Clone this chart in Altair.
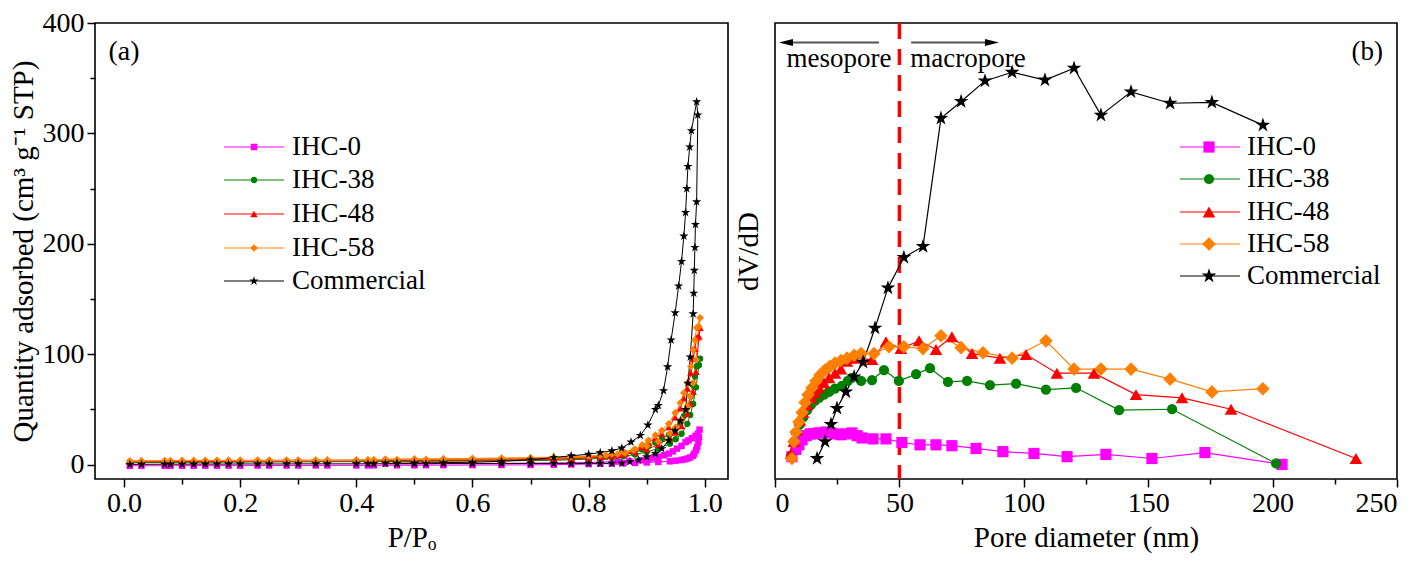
import altair as alt
import pandas as pd

FONT = "Liberation Serif"
SERIES = ["IHC-0", "IHC-38", "IHC-48", "IHC-58", "Commercial"]
COLORS = ["#ff00ff", "#008000", "#ff0000", "#ff8000", "#000000"]
STAR = ("M0,-1L0.2245,-0.309L0.951,-0.309L0.363,0.118L0.588,0.809L0,0.382"
        "L-0.588,0.809L-0.363,0.118L-0.951,-0.309L-0.2245,-0.309Z")
SHAPES = ["square", "circle", "triangle-up", "diamond", STAR]
LEFT_SIZES = [42, 40, 55, 60, 95]
RIGHT_SIZES = [125, 105, 160, 185, 240]

# ---------------- panel (a): N2 isotherms ----------------
LOW_P = [0.01, 0.03, 0.07, 0.08, 0.10, 0.12, 0.14, 0.16, 0.18, 0.20, 0.23, 0.25, 0.28, 0.30,
         0.33, 0.35, 0.40, 0.42, 0.43, 0.47, 0.50, 0.52, 0.55, 0.60, 0.65, 0.70, 0.74, 0.77, 0.80]
HIGH_P = [0.82, 0.84, 0.86, 0.88, 0.90, 0.92, 0.94, 0.95, 0.96, 0.97, 0.975, 0.98, 0.985, 0.99]
DES_P = [0.992, 0.986, 0.983, 0.98, 0.976, 0.970, 0.964, 0.958, 0.949, 0.938, 0.926, 0.915, 0.903,
         0.892, 0.877, 0.863, 0.85, 0.83, 0.80, 0.77, 0.74, 0.70, 0.65, 0.60, 0.55, 0.50, 0.45]

IHC0_ADS_LOW = [-1.0, -1.0, -1.0, -1.0, -1.0, -0.9, -0.9, -0.9, -0.9, -0.9, -0.8, -0.8, -0.8, -0.8,
                -0.7, -0.7, -0.7, -0.7, -0.6, -0.6, -0.6, -0.5, -0.5, -0.4, -0.3, -0.2, 0.0, 0.2, 0.5]
IHC0_ADS_HIGH_P = [0.82, 0.84, 0.86, 0.88, 0.90, 0.92, 0.94, 0.95, 0.96, 0.965, 0.97, 0.975, 0.98,
                   0.982, 0.985, 0.987, 0.989, 0.99]
IHC0_ADS_HIGH = [0.8, 1.0, 1.3, 1.6, 2.0, 2.5, 3.0, 3.6, 4.2, 4.8, 5.5, 6.5, 8.0, 10.0, 13.0, 16.0,
                 20.0, 25.0]
IHC0_DES_P = [0.991, 0.988, 0.984, 0.978, 0.972, 0.967, 0.960, 0.952, 0.945, 0.938, 0.930, 0.920,
              0.910, 0.903, 0.890, 0.870, 0.850, 0.820, 0.800, 0.770, 0.740, 0.700, 0.650, 0.600,
              0.550, 0.500, 0.450]
IHC0_DES = [31.7, 28, 26, 24, 22, 20.4, 17, 14.5, 12, 10, 8.5, 7, 5.8, 4.8, 4.0, 3.3, 2.8, 2.3, 2.0,
            1.8, 1.6, 1.4, 1.2, 1.1, 1.0, 0.9, 0.8]

IHC38_ADS_LOW = [1.8, 1.9, 2.0, 2.0, 2.1, 2.1, 2.2, 2.2, 2.3, 2.3, 2.4, 2.4, 2.5, 2.5, 2.6, 2.6, 2.7,
                 2.8, 2.8, 2.9, 3.0, 3.0, 3.1, 3.3, 3.5, 3.7, 4.0, 4.4, 5.0]
IHC38_ADS_HIGH = [5.6, 6.4, 7.6, 9.2, 11.5, 14.5, 19, 23, 28, 37, 45, 55, 70, 90]
IHC38_DES = [96, 89, 80, 72, 62, 52, 44, 38, 32, 27, 23, 20, 17, 14, 11, 9, 8, 7, 6, 5.5, 5, 4.6,
             4.3, 4.0, 3.8, 3.6, 3.5]

IHC48_ADS_LOW = [2.5, 2.6, 2.7, 2.7, 2.8, 2.8, 2.9, 2.9, 3.0, 3.0, 3.1, 3.1, 3.2, 3.2, 3.3, 3.3, 3.4,
                 3.5, 3.5, 3.6, 3.7, 3.7, 3.8, 4.0, 4.2, 4.4, 4.8, 5.3, 6.0]
IHC48_ADS_HIGH = [7.0, 8.0, 9.5, 11.5, 14, 18, 24, 29, 35, 46, 55, 66, 84, 116]
IHC48_DES = [124, 115, 105, 96, 83, 69, 60, 51, 43, 34, 28, 24, 20, 16.5, 12.5, 10, 9, 8, 7, 6.5,
             6, 5.5, 5.2, 5.0, 4.8, 4.6, 4.5]

IHC58_ADS_LOW = [3.5, 3.6, 3.7, 3.7, 3.8, 3.8, 3.9, 3.9, 4.0, 4.0, 4.1, 4.1, 4.2, 4.2, 4.3, 4.3, 4.4,
                 4.5, 4.5, 4.6, 4.7, 4.7, 4.8, 5.0, 5.2, 5.4, 5.8, 6.4, 7.2]
IHC58_ADS_HIGH = [8.4, 9.6, 11.5, 14, 17, 21, 28, 34, 41, 53, 62, 74, 95, 125]
IHC58_DES = [133, 124, 113, 104, 89, 74, 65, 56, 47, 37, 31, 26.7, 22, 17.8, 13, 10.7, 9.5, 8.5,
             7.8, 7.2, 6.8, 6.4, 6.0, 5.7, 5.4, 5.2, 5.0]

COM_ADS_LOW = [0.2, 0.3, 0.4, 0.4, 0.4, 0.5, 0.5, 0.5, 0.5, 0.6, 0.6, 0.6, 0.6, 0.7, 0.7, 0.7, 0.7,
               0.8, 0.8, 0.8, 0.8, 0.8, 0.9, 0.9, 0.9, 1.0, 1.0, 1.0, 1.1]
COM_ADS_HIGH_P = [0.82, 0.84, 0.857, 0.871, 0.886, 0.900, 0.915, 0.926, 0.938, 0.949, 0.958, 0.967,
                  0.971, 0.975, 0.980, 0.981, 0.982, 0.983, 0.984, 0.986, 0.988]
COM_ADS_HIGH = [1.1, 1.2, 1.3, 2.7, 4.2, 7.1, 10, 14.5, 22, 30.8, 39.7, 50, 73.8, 97.5, 136.6, 155.3,
                176, 196.7, 217.5, 238, 316.7]
COM_DES_P = [0.986, 0.977, 0.974, 0.971, 0.969, 0.967, 0.964, 0.960, 0.955, 0.949, 0.942, 0.936,
             0.929, 0.920, 0.915, 0.902, 0.889, 0.873, 0.857, 0.84, 0.82, 0.80, 0.77, 0.74, 0.70,
             0.65, 0.60, 0.55, 0.50, 0.47, 0.45]
COM_DES = [328.6, 302.5, 287.7, 270, 250, 228.4, 207, 184, 161.8, 137.5, 112.9, 88.6, 67, 53.6, 50,
           35.8, 26.4, 20.4, 15, 12.5, 11, 9.5, 8, 6.5, 4.5, 3, 2.2, 1.8, 1.5, 1.3, 1.2]

# ---------------- panel (b): pore size distributions ----------------
IHC0_D = [6.8, 8.4, 9.6, 10.9, 12.5, 14.1, 15.7, 17.3, 18.9, 20.5, 22.5, 24.1, 26.5, 28.5, 30.9,
          33.0, 35.0, 39.4, 44.6, 51.0, 58.3, 64.7, 71.1, 80.8, 91.6, 104.1, 117.4, 133.0, 151.5,
          172.8, 203.8]
IHC0_V = [0.049, 0.065, 0.075, 0.086, 0.095, 0.099, 0.099, 0.101, 0.101, 0.103, 0.101, 0.099, 0.097,
          0.099, 0.101, 0.095, 0.090, 0.088, 0.088, 0.080, 0.075, 0.075, 0.073, 0.067, 0.060, 0.056,
          0.049, 0.054, 0.045, 0.058, 0.032]
IHC38_D = [6.4, 7.6, 8.8, 10.0, 11.3, 12.9, 14.5, 16.1, 17.7, 19.7, 21.7, 24.1, 26.9, 29.3, 30.9,
           34.6, 39.0, 43.8, 49.8, 56.7, 62.3, 69.5, 77.2, 86.4, 96.9, 108.9, 121.0, 138.3, 159.6,
           201.4]
IHC38_V = [0.049, 0.082, 0.103, 0.120, 0.135, 0.151, 0.163, 0.172, 0.178, 0.185, 0.191, 0.198,
           0.204, 0.215, 0.222, 0.215, 0.217, 0.239, 0.215, 0.230, 0.243, 0.213, 0.215, 0.206,
           0.209, 0.196, 0.200, 0.151, 0.153, 0.034]
IHC48_D = [6.4, 7.6, 8.8, 10.0, 11.3, 12.9, 14.5, 16.1, 17.7, 19.7, 21.7, 24.1, 26.5, 28.9, 31.8,
           39.0, 44.6, 50.6, 57.9, 64.7, 71.1, 79.2, 90.4, 100.9, 113.3, 128.2, 145.1, 163.6, 183.3,
           233.5]
IHC48_V = [0.056, 0.082, 0.108, 0.129, 0.146, 0.163, 0.178, 0.189, 0.200, 0.211, 0.222, 0.232,
           0.241, 0.258, 0.265, 0.262, 0.301, 0.286, 0.303, 0.284, 0.312, 0.275, 0.265, 0.273,
           0.232, 0.232, 0.185, 0.178, 0.153, 0.045]
IHC58_D = [6.8, 7.6, 8.4, 9.6, 10.9, 12.1, 13.3, 14.9, 16.5, 18.1, 20.1, 22.1, 24.1, 26.5, 28.9,
           31.8, 34.6, 39.8, 45.8, 51.8, 59.5, 66.7, 74.8, 83.6, 95.3, 108.9, 120.2, 131.0, 143.1,
           158.8, 175.6, 196.1]
IHC58_V = [0.045, 0.082, 0.103, 0.125, 0.146, 0.168, 0.185, 0.200, 0.215, 0.228, 0.239, 0.247,
           0.254, 0.260, 0.265, 0.271, 0.275, 0.275, 0.290, 0.290, 0.286, 0.314, 0.288, 0.277,
           0.265, 0.303, 0.241, 0.241, 0.241, 0.219, 0.191, 0.198]
COM_D = [16.9, 20.1, 22.5, 24.9, 28.5, 31.8, 35.4, 40.2, 45.4, 51.8, 59.5, 66.7, 74.8, 84.4, 95.3,
         108.5, 120.2, 131.0, 143.1, 158.8, 175.6, 196.1]
COM_V = [0.045, 0.082, 0.120, 0.155, 0.191, 0.224, 0.256, 0.331, 0.419, 0.486, 0.510, 0.791, 0.828,
         0.873, 0.892, 0.875, 0.901, 0.798, 0.849, 0.824, 0.826, 0.776]

BOUNDARY_D = [50]

# ---------------- tables ----------------
left_sets = [
    ("IHC-0", LOW_P + IHC0_ADS_HIGH_P + IHC0_DES_P, IHC0_ADS_LOW + IHC0_ADS_HIGH + IHC0_DES),
    ("IHC-38", LOW_P + HIGH_P + DES_P, IHC38_ADS_LOW + IHC38_ADS_HIGH + IHC38_DES),
    ("IHC-48", LOW_P + HIGH_P + DES_P, IHC48_ADS_LOW + IHC48_ADS_HIGH + IHC48_DES),
    ("IHC-58", LOW_P + HIGH_P + DES_P, IHC58_ADS_LOW + IHC58_ADS_HIGH + IHC58_DES),
    ("Commercial", LOW_P + COM_ADS_HIGH_P + COM_DES_P, COM_ADS_LOW + COM_ADS_HIGH + COM_DES),
]
rows, k = [], 0
for name, ps, qs in left_sets:
    for p, q in zip(ps, qs):
        rows.append({"s": name, "P": p, "Q": q, "i": k})
        k += 1
df_left = pd.DataFrame(rows)

right_sets = [("IHC-0", IHC0_D, IHC0_V), ("IHC-38", IHC38_D, IHC38_V), ("IHC-48", IHC48_D, IHC48_V),
              ("IHC-58", IHC58_D, IHC58_V), ("Commercial", COM_D, COM_V)]
rows, k = [], 0
for name, ds, vs in right_sets:
    for d, v in zip(ds, vs):
        rows.append({"s": name, "D": d, "V": v, "i": k})
        k += 1
df_right = pd.DataFrame(rows)

W_L, W_R, H = 633, 622, 456
color_scale = alt.Scale(domain=SERIES, range=COLORS)


def legend_layers(x1, x2, xm, xt, ys, sizes, lw):
    out = []
    for name, c, shp, sz, yy in zip(SERIES, COLORS, SHAPES, sizes, ys):
        d = pd.DataFrame({"label": [name]})
        out.append(alt.Chart(d).mark_rule(color=c, strokeWidth=lw).encode(
            x=alt.value(x1), x2=alt.value(x2), y=alt.value(yy)))
        out.append(alt.Chart(d).mark_point(shape=shp, filled=True, color=c, size=sz, opacity=1,
                                           strokeWidth=0).encode(x=alt.value(xm), y=alt.value(yy)))
        out.append(alt.Chart(d).mark_text(align="left", baseline="middle", font=FONT, fontSize=27,
                                          color="black").encode(
            x=alt.value(xt), y=alt.value(yy), text="label:N"))
    return out


# ---------- left panel ----------
xsL = alt.Scale(domain=[-0.05, 1.04], nice=False, zero=False)
ysL = alt.Scale(domain=[-13, 400], nice=False, zero=False)

lines_L = alt.Chart(df_left).mark_line(strokeWidth=1).encode(
    x=alt.X("P:Q", scale=xsL, axis=alt.Axis(values=[0, 0.2, 0.4, 0.6, 0.8, 1.0], format=".1f",
                                             title="P/P\u2092", orient="bottom", tickSize=8,
                                             labelPadding=2, titlePadding=6)),
    y=alt.Y("Q:Q", scale=ysL, axis=alt.Axis(values=[0, 100, 200, 300, 400], orient="left",
                                             title="Quantity adsorbed (cm\u00b3 g\u207b\u00b9 STP)",
                                             tickSize=8, labelPadding=3, titlePadding=4)),
    color=alt.Color("s:N", scale=color_scale, legend=None),
    detail="s:N",
    order="i:Q",
)
pts_L = [
    alt.Chart(df_left).transform_filter(alt.datum.s == name).mark_point(
        shape=shp, filled=True, color=c, size=sz, opacity=1, strokeWidth=0).encode(
        x=alt.X("P:Q", scale=xsL, axis=None), y=alt.Y("Q:Q", scale=ysL, axis=None))
    for name, c, shp, sz in zip(SERIES, COLORS, SHAPES, LEFT_SIZES)
]
minor_L = alt.Chart(df_left).mark_point(opacity=0).encode(
    x=alt.X("P:Q", scale=xsL, axis=alt.Axis(values=[0.1, 0.3, 0.5, 0.7, 0.9], labels=False,
                                             title=None, tickSize=5, orient="bottom")),
    y=alt.Y("Q:Q", scale=ysL, axis=alt.Axis(values=[50, 150, 250, 350], labels=False, title=None,
                                             tickSize=5, orient="left")),
)
tag_a = alt.Chart(pd.DataFrame({"P": [0.0], "Q": [374], "t": ["(a)"]})).mark_text(
    font=FONT, fontSize=28, align="center", baseline="middle", color="black").encode(
    x=alt.X("P:Q", scale=xsL, axis=None), y=alt.Y("Q:Q", scale=ysL, axis=None), text="t:N")

left = alt.layer(
    lines_L, *pts_L, minor_L, tag_a,
    *legend_layers(129, 189, 159, 197, [124, 157, 191, 225, 258], LEFT_SIZES, 1.2),
).resolve_axis(x="independent", y="independent").properties(width=W_L, height=H)

# ---------- right panel ----------
xsR = alt.Scale(domain=[0, 250], nice=False, zero=False)
ysR = alt.Scale(domain=[0, 1], nice=False, zero=False)

vline = alt.Chart(pd.DataFrame({"D": BOUNDARY_D})).mark_rule(
    color="#ff0000", strokeWidth=3.5, strokeDash=[16, 10]).encode(
    x=alt.X("D:Q", scale=xsR, axis=None))
lines_R = alt.Chart(df_right).mark_line(strokeWidth=1.2).encode(
    x=alt.X("D:Q", scale=xsR, axis=alt.Axis(values=[0, 50, 100, 150, 200, 250], orient="bottom",
                                             title="Pore diameter (nm)", tickSize=8,
                                             labelPadding=2, titlePadding=6)),
    y=alt.Y("V:Q", scale=ysR, axis=alt.Axis(title="dV/dD", labels=False, ticks=False,
                                             orient="left", titlePadding=12)),
    color=alt.Color("s:N", scale=color_scale, legend=None),
    detail="s:N",
    order="i:Q",
)
pts_R = [
    alt.Chart(df_right).transform_filter(alt.datum.s == name).mark_point(
        shape=shp, filled=True, color=c, size=sz, opacity=1, strokeWidth=0).encode(
        x=alt.X("D:Q", scale=xsR, axis=None), y=alt.Y("V:Q", scale=ysR, axis=None))
    for name, c, shp, sz in zip(SERIES, COLORS, SHAPES, RIGHT_SIZES)
]
minor_R = alt.Chart(df_right).mark_point(opacity=0).encode(
    x=alt.X("D:Q", scale=xsR, axis=alt.Axis(values=[25, 75, 125, 175, 225], labels=False,
                                             title=None, tickSize=5, orient="bottom")),
    y=alt.Y("V:Q", scale=ysR, axis=None),
)
arrow_df = pd.DataFrame({"x1": [4.4, 54.7], "x2": [41.8, 87.2], "y": [0.957, 0.957]})
arrows = alt.Chart(arrow_df).mark_rule(color="#555555", strokeWidth=2).encode(
    x=alt.X("x1:Q", scale=xsR, axis=None), x2="x2:Q", y=alt.Y("y:Q", scale=ysR, axis=None))
head_l = alt.Chart(pd.DataFrame({"x": [4.4], "y": [0.957]})).mark_point(
    shape="M-1,0L1,-0.5L1,0.5Z", filled=True, color="black", size=196, opacity=1).encode(
    x=alt.X("x:Q", scale=xsR, axis=None), y=alt.Y("y:Q", scale=ysR, axis=None))
head_r = alt.Chart(pd.DataFrame({"x": [87.2], "y": [0.957]})).mark_point(
    shape="M1,0L-1,-0.5L-1,0.5Z", filled=True, color="black", size=196, opacity=1).encode(
    x=alt.X("x:Q", scale=xsR, axis=None), y=alt.Y("y:Q", scale=ysR, axis=None))
notes = alt.Chart(pd.DataFrame({"x": [25.7, 77.6, 238.0], "y": [0.92, 0.92, 0.937],
                                "t": ["mesopore", "macropore", "(b)"]})).mark_text(
    font=FONT, fontSize=27, align="center", baseline="middle", color="black").encode(
    x=alt.X("x:Q", scale=xsR, axis=None), y=alt.Y("y:Q", scale=ysR, axis=None), text="t:N")

right = alt.layer(
    vline, lines_R, *pts_R, minor_R, arrows, head_l, head_r, notes,
    *legend_layers(405, 465, 434, 472, [124, 156, 189, 221, 253], RIGHT_SIZES, 1.2),
).resolve_axis(x="independent", y="independent").properties(width=W_R, height=H)

chart = alt.hconcat(left, right, spacing=47, bounds="flush").properties(
    padding={"left": 0, "top": 0, "right": 0, "bottom": 0}
).configure(background="white").configure_view(stroke="black", strokeWidth=1.6).configure_axis(
    labelFont=FONT, titleFont=FONT, labelFontSize=28, titleFontSize=29, titleFontWeight="normal",
    labelColor="black", titleColor="black", tickColor="black", tickWidth=1.5, domain=False,
    grid=False)

chart.save("out.html", embed_options={"renderer": "svg", "actions": False})
